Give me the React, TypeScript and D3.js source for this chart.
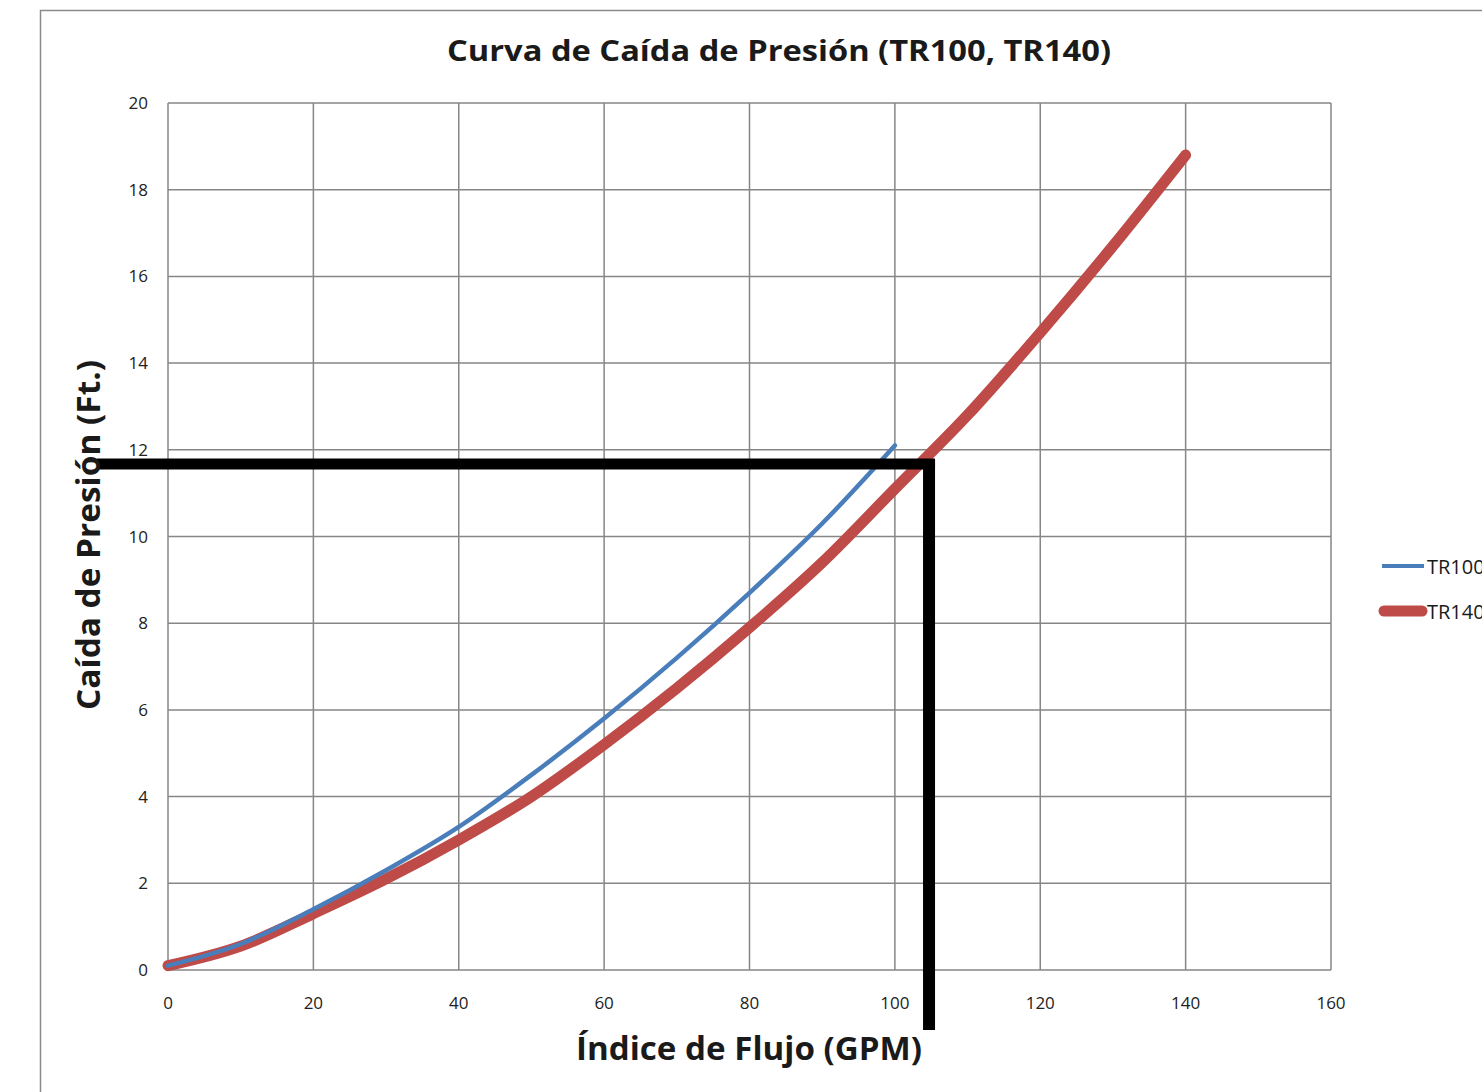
import { useMemo } from 'react'
import * as d3 from 'd3'

// Flow (GPM) and pressure drop (Ft.)
const FLOW_TR100 = [0, 10, 20, 30, 40, 50, 60, 70, 80, 90, 100]
const DROP_TR100 = [0.1, 0.6, 1.4, 2.3, 3.3, 4.5, 5.8, 7.2, 8.7, 10.3, 12.1]
const FLOW_TR140 = [0, 10, 20, 30, 40, 50, 60, 70, 80, 90, 100, 110, 120, 130, 140]
const DROP_TR140 = [0.1, 0.55, 1.3, 2.1, 3.0, 4.0, 5.2, 6.5, 7.9, 9.4, 11.1, 12.8, 14.7, 16.7, 18.8]
const X_TICKS = [0, 20, 40, 60, 80, 100, 120, 140, 160]
const Y_TICKS = [0, 2, 4, 6, 8, 10, 12, 14, 16, 18, 20]
// operating point marked with the black lines
const MARK_FLOW = 104.7
const MARK_DROP = 11.67

const W = 1482
const H = 1092
const margin = { left: 168, right: W - 1331, top: 103, bottom: H - 970 }
const FONT = '"Open Sans", "Liberation Sans", sans-serif'
const GRID = '#868686'

export default function App() {
  const x = useMemo(() => d3.scaleLinear().domain([0, 160]).range([margin.left, W - margin.right]), [])
  const y = useMemo(() => d3.scaleLinear().domain([0, 20]).range([H - margin.bottom, margin.top]), [])

  const line = d3.line<[number, number]>()
    .x(d => x(d[0]))
    .y(d => y(d[1]))
    .curve(d3.curveMonotoneX)

  const tr100 = FLOW_TR100.map((f, i) => [f, DROP_TR100[i]] as [number, number])
  const tr140 = FLOW_TR140.map((f, i) => [f, DROP_TR140[i]] as [number, number])

  return (
    <div style={{ position: 'absolute', left: 0, top: 0 }}>
      <svg width={W} height={H} style={{ display: 'block', background: '#fff' }}>
        {/* chart frame */}
        <path d={`M40.5,${H} V10.5 H${W}`} fill="none" stroke="#8a8a8a" strokeWidth={1.5} />

        <text x={779} y={61} textAnchor="middle" fontFamily={FONT} fontWeight={700} fontSize={29}
          textLength={664} lengthAdjust="spacingAndGlyphs" fill="#1a1a1a">
          Curva de Caída de Presión (TR100, TR140)
        </text>

        {/* gridlines */}
        {X_TICKS.map(t => (
          <line key={'gx' + t} x1={x(t)} x2={x(t)} y1={y(20)} y2={y(0)} stroke={GRID} strokeWidth={1.5} />
        ))}
        {Y_TICKS.map(t => (
          <line key={'gy' + t} x1={x(0)} x2={x(160)} y1={y(t)} y2={y(t)} stroke={GRID} strokeWidth={1.5} />
        ))}

        {/* tick labels */}
        {X_TICKS.map(t => (
          <text key={'tx' + t} x={x(t)} y={y(0) + 39} textAnchor="middle" fontFamily={FONT} fontSize={17} fill="#222">
            {t}
          </text>
        ))}
        {Y_TICKS.map(t => (
          <text key={'ty' + t} x={x(0) - 20} y={y(t) + 6} textAnchor="end" fontFamily={FONT} fontSize={17} fill="#222">
            {t}
          </text>
        ))}

        {/* series */}
        <path d={line(tr140) ?? ''} fill="none" stroke="#be4b48" strokeWidth={11} strokeLinecap="round" strokeLinejoin="round" />
        <path d={line(tr100) ?? ''} fill="none" stroke="#4a7ebb" strokeWidth={4.5} strokeLinecap="round" />

        {/* black operating point lines */}
        <line x1={97} x2={x(MARK_FLOW) + 6} y1={y(MARK_DROP)} y2={y(MARK_DROP)} stroke="#000" strokeWidth={11} />
        <line x1={x(MARK_FLOW)} x2={x(MARK_FLOW)} y1={y(MARK_DROP) - 5} y2={1030} stroke="#000" strokeWidth={12} />

        {/* axis titles */}
        <text x={749} y={1060} textAnchor="middle" fontFamily={FONT} fontWeight={700} fontSize={32}
          textLength={346} lengthAdjust="spacingAndGlyphs" fill="#1a1a1a">
          Índice de Flujo (GPM)
        </text>
        <text transform={`translate(100,535) rotate(-90)`} textAnchor="middle" fontFamily={FONT} fontWeight={700} fontSize={32}
          textLength={350} lengthAdjust="spacingAndGlyphs" fill="#1a1a1a">
          Caída de Presión (Ft.)
        </text>

        {/* legend (cut off by the right edge, as in the source) */}
        <line x1={1382} x2={1424} y1={566} y2={566} stroke="#4a7ebb" strokeWidth={4} />
        <text x={1427} y={574} fontFamily={FONT} fontSize={20} fill="#1a1a1a">TR100</text>
        <line x1={1384} x2={1422} y1={611} y2={611} stroke="#be4b48" strokeWidth={11} strokeLinecap="round" />
        <text x={1427} y={619} fontFamily={FONT} fontSize={20} fill="#1a1a1a">TR140</text>
      </svg>
    </div>
  )
}
